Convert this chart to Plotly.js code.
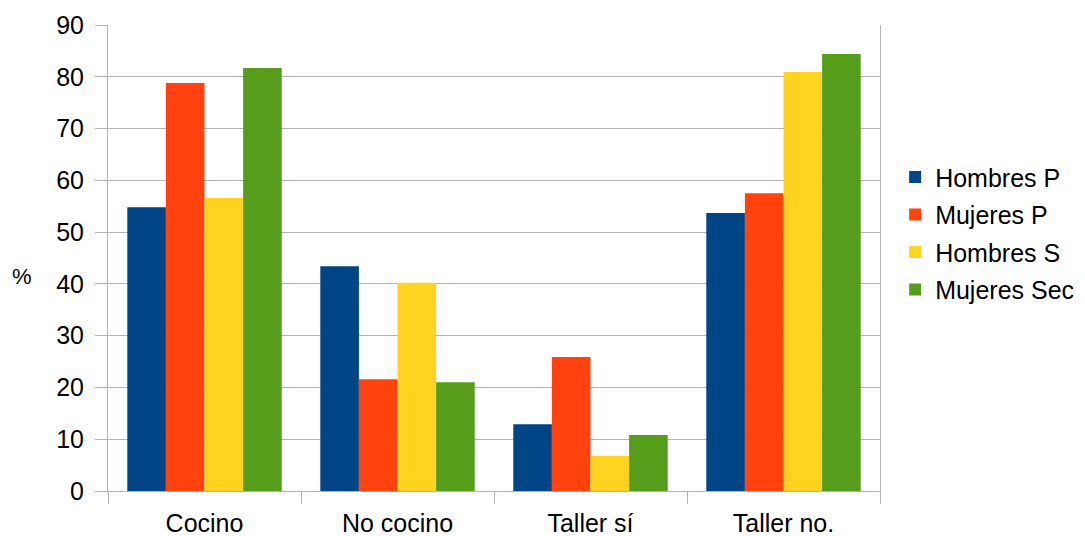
<!DOCTYPE html>
<html>
<head>
<meta charset="utf-8">
<script src="https://cdn.plot.ly/plotly-3.0.1.min.js"></script>
<style>html,body{margin:0;padding:0;background:#fff;}#chart{width:1085px;height:536px;}</style>
</head>
<body>
<div id="chart"></div>
<script>
const categories = ["Cocino", "No cocino", "Taller sí", "Taller no."];
const seriesNames = ["Hombres P", "Mujeres P", "Hombres S", "Mujeres Sec"];
const hombresP = [54.8, 43.4, 12.9, 53.7];
const mujeresP = [78.8, 21.6, 25.9, 57.5];
const hombresS = [56.6, 40.2, 6.8, 80.9];
const mujeresSec = [81.7, 21.0, 10.8, 84.4];
const yTicks = [0, 10, 20, 30, 40, 50, 60, 70, 80, 90];
const colors = ["#004586", "#ff420e", "#ffd320", "#579d1c"];

const values = [hombresP, mujeresP, hombresS, mujeresSec];
const traces = values.map((v, i) => ({
  type: "bar",
  name: seriesNames[i],
  x: categories,
  y: v,
  marker: {color: colors[i], line: {width: 0}},
  legendgroup: "g" + i,
  hoverinfo: "x+y+name"
}));

const font = {family: "Liberation Sans, Arial, sans-serif", color: "#000"};
const layout = {
  width: 1085, height: 536,
  margin: {l: 108, r: 205, t: 25, b: 45},
  paper_bgcolor: "#fff", plot_bgcolor: "#fff",
  font: Object.assign({size: 25}, font),
  barmode: "group",
  bargap: 0.2,
  bargroupgap: 0,
  showlegend: true,
  legend: {
    xref: "container", yref: "container",
    x: 0.825, xanchor: "left", y: 0.565, yanchor: "middle",
    font: Object.assign({size: 25}, font),
    traceorder: "grouped", tracegroupgap: 2,
    itemwidth: 30
  },
  xaxis: {
    type: "category",
    showline: true, linecolor: "#b3b3b3", linewidth: 1,
    ticks: "outside", tickson: "boundaries", ticklen: 12, tickcolor: "#b3b3b3",
    showgrid: false,
    tickfont: Object.assign({size: 25}, font),
    ticklabelstandoff: 10,
    zeroline: false
  },
  yaxis: {
    range: [0, 90],
    tickvals: yTicks,
    ticktext: yTicks.map(String),
    showline: true, linecolor: "#b3b3b3", linewidth: 1, mirror: true,
    ticks: "outside", ticklen: 12, tickcolor: "#b3b3b3",
    showgrid: true, gridcolor: "#b3b3b3", gridwidth: 1,
    zeroline: false,
    tickfont: Object.assign({size: 25}, font),
    ticklabelstandoff: 6
  },
  annotations: [{
    text: "%", xref: "paper", yref: "paper",
    x: -0.111, y: 0.461, xanchor: "center", yanchor: "middle",
    showarrow: false, font: Object.assign({size: 22}, font)
  }]
};
Plotly.newPlot("chart", traces, layout, {displayModeBar: false, staticPlot: true});
</script>
</body>
</html>
